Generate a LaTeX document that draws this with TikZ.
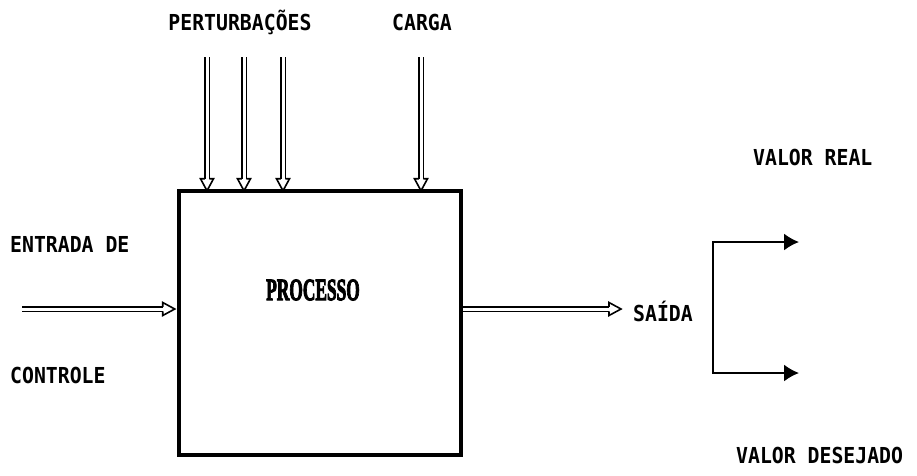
\documentclass[tikz,border=0pt]{standalone}
\usepackage{fontspec}
\setmonofont{DejaVu Sans Mono}[FakeStretch=0.9]
\newfontfamily\procfont{Liberation Serif Bold}
\usetikzlibrary{arrows.meta}
\tikzset{
  lbl/.style={font=\ttfamily\bfseries\fontsize{22}{24}\selectfont, inner sep=0pt},
  dbl/.style={double, double distance=3pt, line width=1.5pt, shorten >=12pt},
  ohead/.style={line width=1.6pt, line join=miter},
  outarr/.style={line width=1.8pt, {Latex[length=15pt,width=17pt]}-{Latex[length=15pt,width=17pt]}},
  headdown/.pic={\draw[ohead] (-2.25,-12) -- (-6.5,-12) -- (0,0) -- (6.5,-12) -- (2.25,-12);},
  headright/.pic={\draw[ohead] (-12,-2.25) -- (-12,-6.5) -- (0,0) -- (-12,6.5) -- (-12,2.25);},
}
\begin{document}
\begin{tikzpicture}[x=1pt,y=-1pt]
\useasboundingbox (0,0) rectangle (917,475);
% process box
\node[draw, line width=4.5pt, minimum width=282pt, minimum height=264pt, inner sep=0pt] (proc) at (320,323) {};
\node[inner sep=0pt] (ptxt) at (313,290) {\scalebox{0.56}[1]{\special{pdf:literal direct 2 Tr 1.2 w}\procfont\fontsize{31}{32}\selectfont PROCESSO\special{pdf:literal direct 0 Tr}}};
% top labels
\node[lbl] (pert) at (240,22) {PERTURBAÇÕES};
\node[lbl] (carga) at (422,22) {CARGA};
% disturbance arrows
\coordinate (d1) at (207,57);
\coordinate (d2) at (244,57);
\coordinate (d3) at (283,57);
\coordinate (d4) at (421,57);
\foreach \d in {d1,d2,d3,d4} {
  \coordinate (\d e) at ([yshift=-2pt]\d |- proc.north);
  \draw[dbl] (\d) -- (\d e);
  \pic at (\d e) {headdown};
}
% input
\node[lbl, anchor=west] (ent) at (10,244) {ENTRADA DE};
\node[lbl, anchor=west] (ctl) at (10,375) {CONTROLE};
\coordinate (in) at (22,309);
\coordinate (ine) at ([xshift=-2pt]in -| proc.west);
\draw[dbl] (in) -- (ine);
\pic at (ine) {headright};
% output
\node[lbl, anchor=west] (saida) at (633,311) {SAÍDA};
\coordinate (outs) at (proc.east |- in);
\coordinate (oute) at (621,309);
\draw[dbl] (outs) -- (oute);
\pic at (oute) {headright};
% bracket
\coordinate (bt) at (713,242);
\coordinate (bb) at (713,373);
\coordinate (rt) at (799,242);
\coordinate (rb) at (799,373);
\draw[outarr] (rt) -- (bt) -- (bb) -- (rb);
\node[lbl, anchor=west] (vreal) at (753,157) {VALOR REAL};
\node[lbl, anchor=west] (vdes) at (736,455) {VALOR DESEJADO};
\end{tikzpicture}
\end{document}
